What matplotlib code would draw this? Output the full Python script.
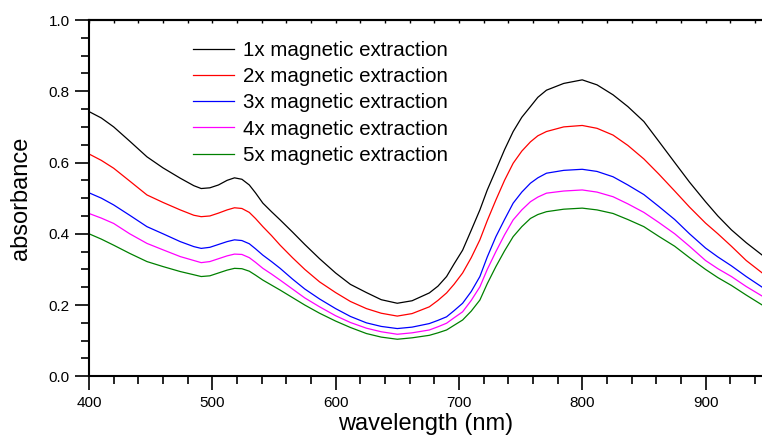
import matplotlib
matplotlib.use("Agg")
import matplotlib.pyplot as plt
from matplotlib.ticker import MultipleLocator, FormatStrFormatter, NullFormatter

plt.rcParams['font.family'] = ['Liberation Sans', 'DejaVu Sans']

wavelength = [400, 410, 420, 433, 447, 460, 474, 485, 491, 498, 505, 512, 518, 524, 530, 535, 541, 548, 555,
              565, 575, 587, 600, 612, 625, 637, 650, 662, 676, 683, 690, 696, 703, 710, 717, 723, 730, 737,
              744, 751, 758, 764, 771, 785, 800, 812, 825, 837, 850, 862, 875, 887, 900, 910, 921, 933, 946]

abs_1x = [0.743, 0.725, 0.700, 0.660, 0.616, 0.585, 0.556, 0.535, 0.527, 0.529, 0.537, 0.550, 0.557, 0.553,
          0.537, 0.515, 0.486, 0.462, 0.439, 0.405, 0.370, 0.330, 0.290, 0.258, 0.235, 0.215, 0.205, 0.212,
          0.234, 0.253, 0.280, 0.315, 0.354, 0.410, 0.467, 0.523, 0.579, 0.636, 0.687, 0.727, 0.757, 0.783,
          0.803, 0.822, 0.832, 0.818, 0.790, 0.757, 0.715, 0.660, 0.600, 0.545, 0.490, 0.450, 0.411, 0.375, 0.340]
abs_2x = [0.624, 0.606, 0.584, 0.548, 0.509, 0.488, 0.467, 0.452, 0.448, 0.450, 0.458, 0.467, 0.473, 0.471,
          0.460, 0.443, 0.420, 0.395, 0.368, 0.333, 0.300, 0.265, 0.235, 0.210, 0.190, 0.177, 0.169, 0.176,
          0.195, 0.213, 0.234, 0.258, 0.290, 0.333, 0.383, 0.437, 0.495, 0.550, 0.598, 0.632, 0.658, 0.675,
          0.687, 0.700, 0.704, 0.696, 0.677, 0.648, 0.610, 0.568, 0.520, 0.475, 0.430, 0.400, 0.365, 0.325, 0.290]
abs_3x = [0.515, 0.500, 0.481, 0.452, 0.420, 0.400, 0.378, 0.364, 0.359, 0.362, 0.370, 0.378, 0.383, 0.381,
          0.372, 0.358, 0.340, 0.322, 0.303, 0.273, 0.245, 0.217, 0.190, 0.168, 0.150, 0.140, 0.134, 0.138,
          0.148, 0.157, 0.167, 0.184, 0.205, 0.238, 0.280, 0.335, 0.392, 0.440, 0.486, 0.517, 0.542, 0.557,
          0.570, 0.578, 0.581, 0.575, 0.560, 0.537, 0.510, 0.477, 0.440, 0.400, 0.360, 0.335, 0.310, 0.280, 0.250]
abs_4x = [0.457, 0.444, 0.429, 0.400, 0.373, 0.355, 0.336, 0.325, 0.319, 0.322, 0.330, 0.338, 0.343, 0.342,
          0.333, 0.320, 0.303, 0.287, 0.270, 0.245, 0.220, 0.195, 0.170, 0.151, 0.135, 0.125, 0.118, 0.122,
          0.130, 0.139, 0.149, 0.164, 0.181, 0.213, 0.251, 0.300, 0.350, 0.397, 0.439, 0.467, 0.490, 0.503,
          0.514, 0.520, 0.523, 0.517, 0.504, 0.484, 0.460, 0.432, 0.400, 0.365, 0.325, 0.302, 0.280, 0.252, 0.225]
abs_5x = [0.400, 0.385, 0.368, 0.345, 0.322, 0.308, 0.294, 0.285, 0.280, 0.282, 0.290, 0.298, 0.303, 0.302,
          0.295, 0.284, 0.270, 0.256, 0.242, 0.221, 0.200, 0.177, 0.155, 0.137, 0.120, 0.110, 0.104, 0.108,
          0.115, 0.122, 0.130, 0.143, 0.158, 0.183, 0.214, 0.260, 0.308, 0.352, 0.392, 0.420, 0.443, 0.454,
          0.462, 0.469, 0.472, 0.467, 0.457, 0.440, 0.420, 0.393, 0.365, 0.333, 0.300, 0.277, 0.255, 0.228, 0.200]

labels = ["1x magnetic extraction", "2x magnetic extraction", "3x magnetic extraction",
          "4x magnetic extraction", "5x magnetic extraction"]
colors = ["#000000", "#ff0000", "#0000ff", "#ff00ff", "#008000"]
series = [abs_1x, abs_2x, abs_3x, abs_4x, abs_5x]

fig = plt.figure(figsize=(7.62, 4.45), dpi=100)
ax = fig.add_axes([89/762, (445-376.3)/445, 673/762, (376.3-20)/445])

for ys, c, lab in zip(series, colors, labels):
    ax.plot(wavelength, ys, color=c, lw=0.9, label=lab)

ax.set_xlim(400, 945.8)
ax.set_ylim(0, 1.0)
ax.xaxis.set_major_locator(MultipleLocator(100))
ax.xaxis.set_minor_locator(MultipleLocator(20))
ax.yaxis.set_major_locator(MultipleLocator(0.2))
ax.yaxis.set_minor_locator(MultipleLocator(0.05))
ax.yaxis.set_major_formatter(FormatStrFormatter('%.1f'))

for s in ['left', 'bottom', 'top']:
    ax.spines[s].set_linewidth(1.5)
ax.spines['right'].set_visible(False)

ax.tick_params(axis='both', which='major', direction='out', length=10, width=1.2, labelsize=11, pad=4)
ax.tick_params(axis='both', which='minor', direction='out', length=6, width=1.2)

top = ax.secondary_xaxis('top')
top.xaxis.set_major_locator(MultipleLocator(100))
top.xaxis.set_minor_locator(MultipleLocator(20))
top.xaxis.set_major_formatter(NullFormatter())
top.tick_params(which='both', direction='in', length=2, width=1.0)
top.spines['top'].set_linewidth(1.5)

ax.set_xlabel("wavelength (nm)", fontsize=17, labelpad=2)
ax.set_ylabel("absorbance", fontsize=17, labelpad=12)

leg = ax.legend(loc='upper left', bbox_to_anchor=(0.1545, 0.941), frameon=False,
                fontsize=14.8, handlelength=2.0, handletextpad=0.45, labelspacing=0.35,
                borderpad=0, borderaxespad=0)

fig.savefig("out.png", dpi=100)
